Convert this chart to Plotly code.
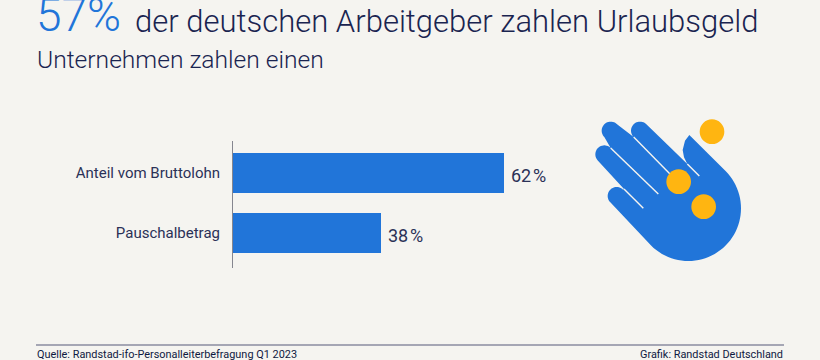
import math
import plotly.graph_objects as go

categories = ["Anteil vom Bruttolohn", "Pauschalbetrag"]
# Drawn bar lengths (the reference's second bar is shorter than its label implies)
bar_lengths = [62, 33.9]
value_labels = ["62\u200a%", "38\u200a%"]

W, H = 820, 360
BG = "#F5F4F0"
NAVY = "#0F1941"
BLUE = "#2175D9"
YELLOW = "#FFB511"
FONT = "Roboto"

px = lambda x: x / W
py = lambda y: 1 - y / H

fig = go.Figure(go.Bar(
    y=categories, x=bar_lengths, orientation="h", width=40 / 60,
    marker=dict(color=BLUE, line=dict(width=0)),
    hoverinfo="skip",
))

# ---- decorative hand icon, in the icon's own local coordinates ----
OX, OY = 570, 100
def local(x, y):
    return (OX + x / 3, OY + y / 3)

def arc(cx, cy, r, a0, a1, n=24):
    return [(cx + r * math.cos(math.radians(a0 + (a1 - a0) * i / n)),
             cy + r * math.sin(math.radians(a0 + (a1 - a0) * i / n))) for i in range(n + 1)]

R = 27
outline = []
outline += arc(140, 288, R, 135, 315)
outline += [(162, 267)]
outline += arc(103, 163, R, 135, 315)
outline += arc(122, 92, R, 135, 315)
outline += arc(210, 92, R, 135, 315)
outline += [(352, 192)]
outline += [(388, 228), (352, 192)]
outline += [(p) for p in [(342, 172), (338, 150), (345, 122), (358, 105)]]
outline += arc(355, 325, 158, -45, 135, 48)
path = "M " + " L ".join(f"{px(local(*p)[0]):.5f},{py(local(*p)[1]):.5f}" for p in outline) + " Z"

shapes = [dict(type="path", xref="paper", yref="paper", path=path,
               fillcolor=BLUE, line=dict(width=0), layer="above")]

def seg(p0, p1, color, width, loc=True):
    a = local(*p0) if loc else p0
    b = local(*p1) if loc else p1
    return dict(type="line", xref="paper", yref="paper", x0=px(a[0]), y0=py(a[1]),
                x1=px(b[0]), y1=py(b[1]), line=dict(color=color, width=width), layer="above")

shapes += [
    seg((162, 267), (220, 325), BG, 1.4),
    seg((122, 144), (265, 282), BG, 1.4),
    seg((191, 111), (300, 222), BG, 1.4),
    seg((352, 192), (388, 228), BG, 1.4),
]
for cx, cy in [(426, 95), (326, 245), (401, 320)]:
    x, y = local(cx, cy)
    r = 37 / 3
    shapes.append(dict(type="circle", xref="paper", yref="paper",
                       x0=px(x - r), x1=px(x + r), y0=py(y - r), y1=py(y + r),
                       fillcolor=YELLOW, line=dict(width=0), layer="above"))
shapes.append(seg((36, 345), (784, 345), "#8A8CA0", 1.5, loc=False))

def note(x, y, text, size, color, anchor="left", family=FONT, weight=None):
    f = dict(family=family, size=size, color=color)
    if weight:
        f["weight"] = weight
    return dict(xref="paper", yref="paper", x=px(x), y=py(y), text=text, showarrow=False,
                xanchor=anchor, yanchor="middle", font=f, borderpad=0)

annotations = [
    note(34.5, 15.5, "57%", 46, BLUE, weight=300),
    note(134, 21.5, "der deutschen Arbeitgeber zahlen Urlaubsgeld", 31, "#1A2450", weight=300),
    note(36, 60, "Unternehmen zahlen einen", 24.6, "#1A2450", weight=300),
    note(36, 354, "Quelle: Randstad-ifo-Personalleiterbefragung Q1 2023", 10.9, NAVY),
    note(784, 354, "Grafik: Randstad Deutschland", 10.9, NAVY, anchor="right"),
]
for cat, length, label in zip(categories, bar_lengths, value_labels):
    annotations.append(dict(xref="x", yref="y", x=length, y=cat, text=label, showarrow=False,
                            xanchor="left", yanchor="middle", xshift=6, yshift=-3, borderpad=0,
                            font=dict(family=FONT, size=18, color="#2B3157")))

fig.update_layout(
    width=W, height=H, margin=dict(l=0, r=0, t=0, b=0),
    paper_bgcolor=BG, plot_bgcolor=BG, showlegend=False,
    bargap=0, shapes=shapes, annotations=annotations,
    xaxis=dict(domain=[px(233), px(560)], range=[0, 327 / (270.5 / 62)],
               visible=False, fixedrange=True),
    yaxis=dict(domain=[py(268), py(141)], range=[(268 - 173) / 60, (141 - 173) / 60],
               type="category", categoryorder="array", categoryarray=categories,
               showline=True, linecolor="#85868F", linewidth=1, showgrid=False, zeroline=False,
               ticks="outside", ticklen=9, tickcolor=BG,
               tickfont=dict(family=FONT, size=15, color="#2B3157"), fixedrange=True),
)
fig.write_html("out.html", config={"displayModeBar": False},
               post_script="document.body.style.margin='0';document.body.style.background='#F5F4F0';document.documentElement.style.overflow='hidden';")
